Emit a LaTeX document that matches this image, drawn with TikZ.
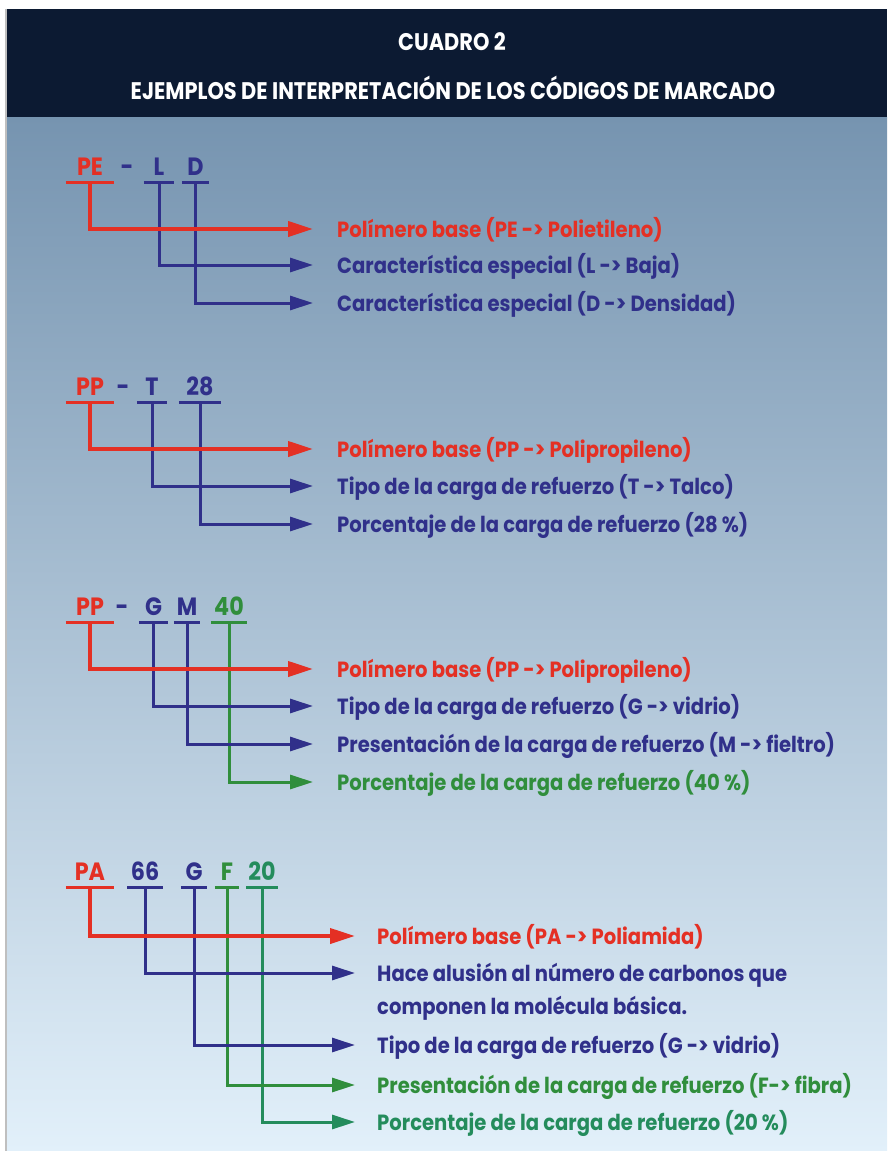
\documentclass[tikz,border=0pt]{standalone}
\usepackage{fontspec}
\newfontfamily\cuadrofont{Poppins}[FakeStretch=0.89]
\newfontfamily\titlefont{Poppins}[FakeStretch=0.87]
\usepackage{tikz}
\usetikzlibrary{arrows.meta}
\definecolor{hdNavy}{RGB}{12,26,50}
\definecolor{bgTop}{RGB}{118,148,176}
\definecolor{bgMid}{RGB}{172,196,216}
\definecolor{bgBot}{RGB}{226,240,250}
\definecolor{mkRed}{RGB}{228,48,36}
\definecolor{mkBlue}{RGB}{48,48,138}
\definecolor{mkGreen}{RGB}{48,142,60}
\definecolor{mkTeal}{RGB}{36,140,92}

\begin{document}
\begin{tikzpicture}[x=1pt, y=-1pt]%
  \tikzset{normal arrow/.style={draw,-{Triangle[length=23pt,width=14pt]},line width=3pt,shorten >=24pt}}
  \tikzset{red arrow/.style={normal arrow,-{Triangle[length=25pt,width=15pt]},line width=3.8pt}}
  \tikzset{ul/.style={append after command={(\tikzlastnode.south west) edge[draw=#1,line width=3pt] (\tikzlastnode.south east)}}}
  \tikzset{codepart/.style={anchor=base, inner sep=0pt, text height=18pt, text depth=7pt, minimum width=#1, font=\cuadrofont\bfseries\fontsize{25}{28}\selectfont}}
  \tikzset{lbl/.style={anchor=west, inner sep=0pt, text height=16pt, text depth=0pt, font=\cuadrofont\bfseries\fontsize{22}{26}\selectfont}}
  \tikzset{title/.style={text=white, inner sep=0pt, font=\titlefont\bfseries\fontsize{24}{26}\selectfont}}

  \useasboundingbox (0,0) rectangle (887,1151);
  \fill[white] (0,0) rectangle (887,1151);
  \shade[top color=bgTop, middle color=bgMid, bottom color=bgBot] (7,117) rectangle (887,1151);
  \fill[hdNavy] (7,9) rectangle (887,117);
  \draw[black!25, line width=2pt] (6,9) -- (6,1151);

  \node[title] at (452,42) (cuadro) {CUADRO 2};
  \node[title] at (453,88) (ejemplos) {EJEMPLOS DE INTERPRETACIÓN DE LOS CÓDIGOS DE MARCADO};

  % PE - L D
  \node[codepart=48, text=mkRed, ul=mkRed] at (90,175) (pe) {PE};
  \node[codepart=0, text=mkBlue] at (127,175) (dash1) {-};
  \node[codepart=30, text=mkBlue, ul=mkBlue] at (159,175) (l) {L};
  \node[codepart=27, text=mkBlue, ul=mkBlue] at (195.5,175) (d) {D};
  \node[lbl, text=mkRed] at (337,229) (pebase) {Polímero base (PE -> Polietileno)};
  \node[lbl, text=mkBlue] at (337,265) (lcar) {Característica especial (L -> Baja)};
  \node[lbl, text=mkBlue] at (337,303) (dcar) {Característica especial (D -> Densidad)};
  \draw[normal arrow, mkBlue] (d) |- (dcar);
  \draw[normal arrow, mkBlue] (l) |- (lcar);
  \draw[red arrow, mkRed] (pe) |- (pebase);

  % PP - T 28
  \node[codepart=48, text=mkRed, ul=mkRed] at (90,395) (pp1) {PP};
  \node[codepart=0, text=mkBlue] at (123,395) (dash2) {-};
  \node[codepart=30, text=mkBlue, ul=mkBlue] at (152,395) (t) {T};
  \node[codepart=42, text=mkBlue, ul=mkBlue] at (200,395) (n28) {28};
  \node[lbl, text=mkRed] at (337,449) (ppbase1) {Polímero base (PP -> Polipropileno)};
  \node[lbl, text=mkBlue] at (337,486) (ttipo) {Tipo de la carga de refuerzo (T -> Talco)};
  \node[lbl, text=mkBlue] at (337,524) (porc28) {Porcentaje de la carga de refuerzo (28 \%)};
  \draw[normal arrow, mkBlue] (n28) |- (porc28);
  \draw[normal arrow, mkBlue] (t) |- (ttipo);
  \draw[red arrow, mkRed] (pp1) |- (ppbase1);

  % PP - G M 40
  \node[codepart=48, text=mkRed, ul=mkRed] at (90,615) (pp2) {PP};
  \node[codepart=0, text=mkBlue] at (122,615) (dash3) {-};
  \node[codepart=29, text=mkBlue, ul=mkBlue] at (153.5,615) (g1) {G};
  \node[codepart=26, text=mkBlue, ul=mkBlue] at (187,615) (m) {M};
  \node[codepart=36, text=mkGreen, ul=mkGreen] at (229,615) (n40) {40};
  \node[lbl, text=mkRed] at (337,669) (ppbase2) {Polímero base (PP -> Polipropileno)};
  \node[lbl, text=mkBlue] at (337,706) (gtipo1) {Tipo de la carga de refuerzo (G -> vidrio)};
  \node[lbl, text=mkBlue] at (337,744) (mpres) {Presentación de la carga de refuerzo (M -> fieltro)};
  \node[lbl, text=mkGreen] at (337,782) (porc40) {Porcentaje de la carga de refuerzo (40 \%)};
  \draw[normal arrow, mkGreen] (n40) |- (porc40);
  \draw[normal arrow, mkBlue] (m) |- (mpres);
  \draw[normal arrow, mkBlue] (g1) |- (gtipo1);
  \draw[red arrow, mkRed] (pp2) |- (ppbase2);

  % PA 66 G F 20
  \node[codepart=48, text=mkRed, ul=mkRed] at (90,880) (pa) {PA};
  \node[codepart=35, text=mkBlue, ul=mkBlue] at (145,880) (n66) {66};
  \node[codepart=26, text=mkBlue, ul=mkBlue] at (194,880) (g2) {G};
  \node[codepart=24, text=mkGreen, ul=mkGreen] at (227,880) (f) {F};
  \node[codepart=31, text=mkTeal, ul=mkTeal] at (262,880) (n20) {20};
  \node[lbl, text=mkRed] at (377,936) (pabase) {Polímero base (PA -> Poliamida)};
  \node[lbl, text=mkBlue] at (377,973) (carb) {Hace alusión al número de carbonos que};
  \node[lbl, text=mkBlue] at (377,1006) (carb2) {componen la molécula básica.};
  \node[lbl, text=mkBlue] at (377,1045) (gtipo2) {Tipo de la carga de refuerzo (G -> vidrio)};
  \node[lbl, text=mkGreen] at (377,1085) (fpres) {Presentación de la carga de refuerzo (F-> fibra)};
  \node[lbl, text=mkTeal] at (377,1122) (porc20) {Porcentaje de la carga de refuerzo (20 \%)};
  \draw[normal arrow, mkTeal, shorten >=22pt] (n20) |- (porc20);
  \draw[normal arrow, mkGreen, shorten >=22pt] (f) |- (fpres);
  \draw[normal arrow, mkBlue, shorten >=22pt] (g2) |- (gtipo2);
  \draw[normal arrow, mkBlue, shorten >=22pt] (n66) |- (carb);
  \draw[red arrow, mkRed, shorten >=22pt] (pa) |- (pabase);
\end{tikzpicture}
\end{document}
